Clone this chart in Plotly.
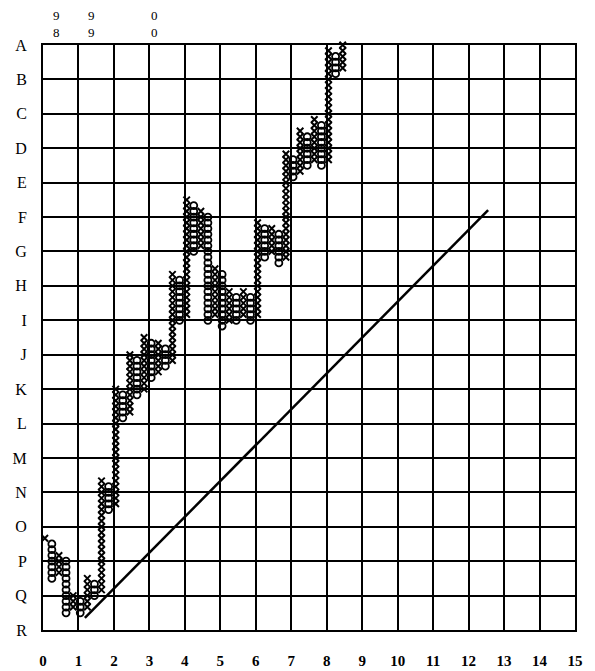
import numpy as np
import plotly.graph_objects as go

# point & figure columns, in box units (one box = 1/6 of a grid row)
col_kind = ["X", "O", "X", "O", "X", "O", "X", "O", "X", "O",
            "X", "O", "X", "O", "X", "O", "X", "O", "X", "O",
            "X", "O", "X", "O", "X", "O", "X", "O", "X", "O",
            "X", "O", "X", "O", "X", "O", "X", "O", "X", "O",
            "X", "O", "X"]
col_low = [16, 9, 10, 3, 4, 3, 4, 6, 7, 21,
           22, 37, 38, 41, 42, 44, 45, 46, 47, 54,
           55, 66, 67, 54, 55, 53, 54, 54, 55, 54,
           55, 65, 66, 64, 65, 79, 80, 81, 82, 81,
           82, 97, 98]
col_high = [16, 15, 13, 12, 6, 5, 9, 8, 26, 25,
            42, 41, 48, 47, 51, 50, 50, 49, 62, 61,
            75, 74, 73, 72, 63, 62, 59, 58, 59, 58,
            71, 70, 70, 69, 83, 82, 87, 86, 89, 88,
            101, 100, 104]

row_labels = ["R", "Q", "P", "O", "N", "M", "L", "K", "J",
              "I", "H", "G", "F", "E", "D", "C", "B", "A"]
x_labels = [str(i) for i in range(16)]

# year markers at the top (stacked digits)
year_labels = ["98", "99", "00"]
year_x = [0.39, 1.38, 3.15]

# trend line
trend_x = [1.18, 12.55]
trend_y = [0.35, 12.2]

BOX = 1 / 6
COL_START, COL_STEP = 0.05, 0.2

xs = {"X": [], "O": []}
ys = {"X": [], "O": []}
for i, (k, lo, hi) in enumerate(zip(col_kind, col_low, col_high)):
    boxes = np.arange(lo, hi + 1)
    xs[k] += [COL_START + COL_STEP * i] * len(boxes)
    ys[k] += list(boxes * BOX)

fig = go.Figure()
fig.add_trace(go.Scatter(
    x=trend_x, y=trend_y, mode="lines",
    line=dict(color="black", width=2.5), cliponaxis=False, showlegend=False))
fig.add_trace(go.Scatter(
    x=xs["O"], y=ys["O"], mode="markers", cliponaxis=False, showlegend=False,
    marker=dict(symbol="circle-open", size=7, color="black", line=dict(width=1.8))))
fig.add_trace(go.Scatter(
    x=xs["X"], y=ys["X"], mode="markers", cliponaxis=False, showlegend=False,
    marker=dict(symbol="x-thin-open", size=6.5, color="black", line=dict(width=2))))

for lab, xv in zip(year_labels, year_x):
    fig.add_annotation(
        x=xv, xref="x", y=1 + 21 / 585, yref="paper",
        text="<br>".join(lab), showarrow=False, yanchor="middle", borderpad=0,
        font=dict(family="Liberation Serif", size=13, color="black"))

# the page adds ~8px around the figure, so the figure is a bit smaller than the window
fig.update_layout(
    width=580, height=660,
    margin=dict(l=35, r=13, t=37, b=38),
    plot_bgcolor="white", paper_bgcolor="white",
)
fig.update_xaxes(
    range=[0, 15], tickvals=list(range(16)), ticktext=x_labels,
    showgrid=True, gridcolor="black", gridwidth=2, zeroline=False,
    showline=True, linecolor="black", linewidth=2, mirror=True,
    ticks="", ticklabelstandoff=16, automargin=False,
    tickfont=dict(family="Liberation Serif", size=15, color="black", weight="bold"))
fig.update_yaxes(
    range=[0, 17], tickvals=list(range(18)), ticktext=row_labels,
    showgrid=True, gridcolor="black", gridwidth=2, zeroline=False,
    showline=True, linecolor="black", linewidth=2, mirror=True,
    ticks="", ticklabelstandoff=11, automargin=False,
    tickfont=dict(family="Liberation Serif", size=16, color="black"))

fig.write_html("out.html")
